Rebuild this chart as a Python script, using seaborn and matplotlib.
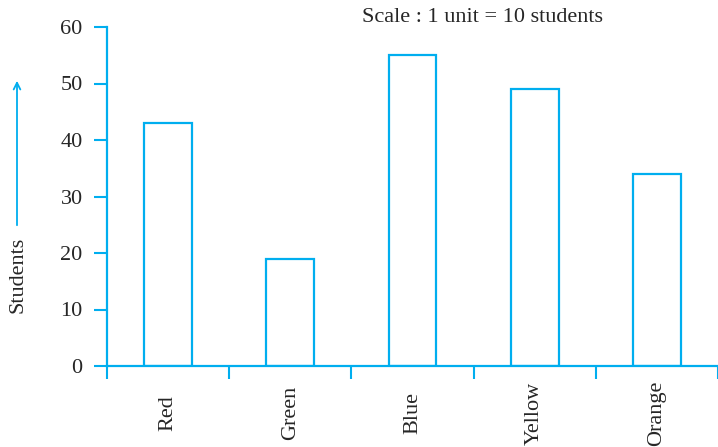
import matplotlib.pyplot as plt
from matplotlib.patches import FancyArrowPatch
import seaborn as sns

# favourite colours survey
colours = ['Red', 'Green', 'Blue', 'Yellow', 'Orange']
students = [43, 19, 55, 49, 34]
y_ticks = [0, 10, 20, 30, 40, 50, 60]

CYAN = '#00AEEF'

sns.set_style('white')
plt.rcParams['font.family'] = ['Liberation Serif', 'DejaVu Serif']

fig = plt.figure(figsize=(7.18, 4.47), dpi=100)
ax = fig.add_axes([107 / 718, 1 - 366 / 447, 1 - 107 / 718, (366 - 27) / 447])

sns.barplot(x=colours, y=students, ax=ax, width=0.39, fill=False,
            edgecolor=CYAN, linewidth=1.6)

ax.set_xlim(-0.5, 4.5)
ax.set_ylim(0, 60)
ax.set_yticks(y_ticks)
ax.tick_params(axis='y', direction='out', length=9.5, width=1.5, color=CYAN,
               labelsize=16, pad=8, left=True)
ax.set_xticks(range(len(colours)))
ax.set_xticklabels(colours, rotation=90, va='center', fontsize=16)
ax.tick_params(axis='x', which='major', length=0, pad=34)
ax.set_xticks([i - 0.5 for i in range(len(colours) + 1)], minor=True)
ax.tick_params(axis='x', which='minor', direction='out', length=9.5, width=1.5,
               color=CYAN, bottom=True)

for side in ['top', 'right']:
    ax.spines[side].set_visible(False)
for side in ['left', 'bottom']:
    ax.spines[side].set_color(CYAN)
    ax.spines[side].set_linewidth(1.6)
ax.set_xlabel('')
ax.set_ylabel('')

# axis caption with arrow
fig.text(18 / 718, 1 - 275 / 447, 'Students', rotation=90, fontsize=16,
         ha='center', va='center')
fig.patches.append(FancyArrowPatch(
    (17 / 718, 1 - 228 / 447), (17 / 718, 1 - 78 / 447), transform=fig.transFigure,
    arrowstyle='->', mutation_scale=12, color=CYAN, linewidth=1.3))

fig.text(362 / 718, 1 - 18 / 447, 'Scale : 1 unit = 10 students', fontsize=16,
         ha='left', va='center')

fig.savefig('out.png', dpi=100)
